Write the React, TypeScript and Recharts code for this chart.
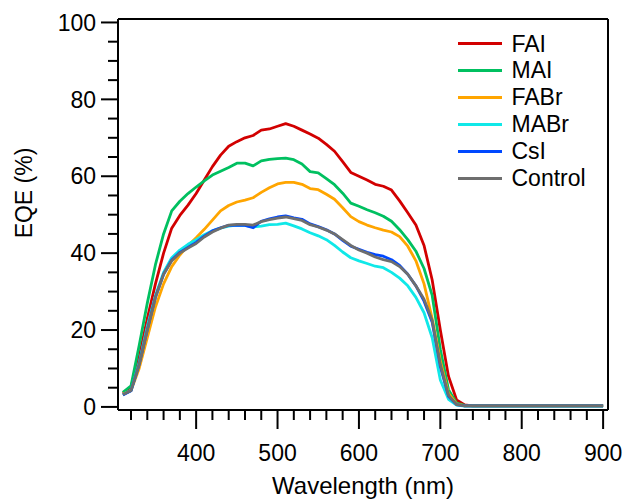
import React from 'react';
import { LineChart, Line, XAxis, YAxis, Legend, Label, ReferenceLine } from 'recharts';

const FONT = '"Liberation Sans", Arial, Helvetica, sans-serif';

const wavelengths = [
  310, 320, 330, 340, 350, 360, 370, 380, 390, 400,
  410, 420, 430, 440, 450, 460, 470, 480, 490, 500,
  510, 520, 530, 540, 550, 560, 570, 580, 590, 600,
  610, 620, 630, 640, 650, 660, 670, 680, 690, 700,
  710, 720, 730, 740, 750, 760, 770, 780, 790, 800,
  810, 820, 830, 840, 850, 860, 870, 880, 890, 900,
];

const fai = [
  3.6, 5.2, 13, 23, 32, 40, 46.5, 49.8, 52.5, 55.5,
  59, 62.5, 65.5, 67.8, 69, 70, 70.6, 72, 72.3, 73,
  73.7, 73, 72, 71, 69.9, 68.3, 66.5, 63.8, 61, 60,
  59, 57.9, 57.4, 56.4, 53.6, 50.5, 47.3, 42, 33, 20,
  8, 1.8, 0.5, 0.3, 0.3, 0.3, 0.3, 0.3, 0.3, 0.3,
  0.3, 0.3, 0.3, 0.3, 0.3, 0.3, 0.3, 0.3, 0.3, 0.3,
];

const mai = [
  3.8, 5.5, 16, 27, 37, 45, 51, 53.5, 55.5, 57.2,
  58.8, 60.3, 61.3, 62.3, 63.4, 63.4, 62.7, 64, 64.4, 64.6,
  64.7, 64.3, 63.2, 61.2, 60.9, 59.4, 57.8, 55.6, 53, 52.2,
  51.3, 50.5, 49.6, 48.3, 46.1, 43.5, 40.5, 36, 29, 15,
  4.5, 1, 0.4, 0.3, 0.3, 0.3, 0.3, 0.3, 0.3, 0.3,
  0.3, 0.3, 0.3, 0.3, 0.3, 0.3, 0.3, 0.3, 0.3, 0.3,
];

const fabr = [
  3.3, 4.3, 10, 18, 26, 32, 36.5, 39.5, 42, 44,
  46.2, 48.6, 51, 52.4, 53.3, 53.8, 54.4, 55.8, 57, 58,
  58.4, 58.4, 57.9, 56.8, 56.5, 55.3, 54, 51.8, 49.5, 48.2,
  47.3, 46.6, 46, 45.5, 44.3, 41.8, 38, 32, 23, 12,
  3.5, 0.8, 0.3, 0.25, 0.25, 0.25, 0.25, 0.25, 0.25, 0.25,
  0.25, 0.25, 0.25, 0.25, 0.25, 0.25, 0.25, 0.25, 0.25, 0.25,
];

const mabr = [
  3.2, 4.3, 11.5, 21, 29, 35, 38.8, 40.8, 42.3, 43.5,
  44.8, 45.8, 46.5, 47, 47.3, 47.2, 46.8, 47, 47.4, 47.5,
  47.8, 47.1, 46.3, 45.3, 44.5, 43.5, 42, 40.3, 38.8, 38,
  37.3, 36.6, 36.2, 35, 33.5, 31.5, 28.5, 24.5, 18, 7,
  2, 0.5, 0.2, 0.2, 0.2, 0.2, 0.2, 0.2, 0.2, 0.2,
  0.2, 0.2, 0.2, 0.2, 0.2, 0.2, 0.2, 0.2, 0.2, 0.2,
];

const csi = [
  3.1, 4.2, 11, 20, 28.5, 34.5, 38.2, 40.2, 41.5, 42.8,
  44.4, 45.8, 46.6, 47.2, 47.3, 47.2, 46.6, 48.3, 48.9, 49.4,
  49.7, 49.2, 48.8, 47.6, 46.9, 46.1, 45, 43.3, 41.8, 41,
  40.2, 39.6, 39.2, 38.3, 36.8, 34.5, 31.5, 27.5, 22, 10.5,
  2.8, 0.6, 0.3, 0.25, 0.25, 0.25, 0.25, 0.25, 0.25, 0.25,
  0.25, 0.25, 0.25, 0.25, 0.25, 0.25, 0.25, 0.25, 0.25, 0.25,
];

const control = [
  3.2, 4.3, 11, 20, 28.5, 34.5, 38, 40, 41.3, 42.5,
  44.2, 45.5, 46.5, 47.3, 47.5, 47.5, 47.3, 48.2, 48.7, 49.1,
  49.4, 49, 48.5, 47.4, 46.8, 46, 45, 43.5, 42, 40.8,
  40, 39, 38.3, 37.8, 36.5, 34.5, 31.5, 28, 22.5, 11,
  3, 0.6, 0.3, 0.25, 0.25, 0.25, 0.25, 0.25, 0.25, 0.25,
  0.25, 0.25, 0.25, 0.25, 0.25, 0.25, 0.25, 0.25, 0.25, 0.25,
];

const seriesNames = ['FAI', 'MAI', 'FABr', 'MABr', 'CsI', 'Control'];
const seriesValues = [fai, mai, fabr, mabr, csi, control];
const seriesColors = ['#d20000', '#00c060', '#ffa500', '#10e8e8', '#0048ff', '#6e6e6e'];

const xTicks = [
  320, 340, 360, 380, 400, 420, 440, 460, 480, 500, 520, 540, 560, 580, 600,
  620, 640, 660, 680, 700, 720, 740, 760, 780, 800, 820, 840, 860, 880, 900,
];
const xMajor = [400, 500, 600, 700, 800, 900];
const yTicks = [0, 5, 10, 15, 20, 25, 30, 35, 40, 45, 50, 55, 60, 65, 70, 75, 80, 85, 90, 95, 100];
const yMajor = [0, 20, 40, 60, 80, 100];

const xDomain = [304, 906];
const yDomain = [-0.8, 100.9];

const data = wavelengths.map((wl, i) => {
  const row: Record<string, number> = { wl };
  seriesNames.forEach((n, s) => {
    row[n] = seriesValues[s][i];
  });
  return row;
});

const XTick = (props: any) => {
  const { x, y, payload } = props;
  const major = xMajor.includes(payload.value);
  return (
    <g>
      <line x1={x} x2={x} y1={y} y2={y + (major ? 19 : 10)} stroke="#000" strokeWidth={2} />
      {major && (
        <text x={x} y={y + 50.5} textAnchor="middle" fontSize={23} fontFamily={FONT} fill="#000">
          {payload.value}
        </text>
      )}
    </g>
  );
};

const YTick = (props: any) => {
  const { x, y, payload } = props;
  const major = yMajor.includes(payload.value);
  return (
    <g>
      <line x1={x - (major ? 17 : 10)} x2={x} y1={y} y2={y} stroke="#000" strokeWidth={2} />
      {major && (
        <text x={x - 22} y={y + 8.2} textAnchor="end" fontSize={23} fontFamily={FONT} fill="#000">
          {payload.value}
        </text>
      )}
    </g>
  );
};

const renderYTitle = (p: any) => {
  const vb = p && p.viewBox ? p.viewBox : { x: 0 };
  const cx = (vb.x ?? 0) + 31.5;
  const cy = 193;
  return (
    <text
      x={cx}
      y={cy}
      transform={`rotate(-90 ${cx} ${cy})`}
      textAnchor="middle"
      fontSize={23}
      fontFamily={FONT}
      fill="#000"
    >
      EQE (%)
    </text>
  );
};

const renderXTitle = (p: any) => {
  const vb = p && p.viewBox ? p.viewBox : { x: 118, y: 410, width: 490 };
  const cx = (vb.x ?? 118) + (vb.width ?? 490) / 2;
  const cy = (vb.y ?? 410) + 84;
  return (
    <text x={cx} y={cy} textAnchor="middle" fontSize={24} fontFamily={FONT} fill="#000">
      Wavelength (nm)
    </text>
  );
};

const renderLegend = () => (
  <div style={{ fontFamily: FONT, fontSize: 23, color: '#000' }}>
    {seriesNames.map((n, i) => (
      <div key={n} style={{ display: 'flex', alignItems: 'center', height: 26.9 }}>
        <div style={{ width: 43.4, height: 3, background: seriesColors[i] }} />
        <span style={{ marginLeft: 9.8, lineHeight: '26.9px' }}>{n}</span>
      </div>
    ))}
  </div>
);

export default function App() {
  return (
    <div style={{ position: 'absolute', left: 0, top: 0, width: 628, height: 500, background: '#fff' }}>
      <LineChart
        width={628}
        height={500}
        data={data}
        margin={{ top: 19, right: 20, bottom: 0, left: 0 }}
      >
        <XAxis
          dataKey="wl"
          type="number"
          domain={xDomain}
          allowDataOverflow
          ticks={xTicks}
          interval={0}
          height={90}
          tickSize={0}
          tickMargin={0}
          tickLine={false}
          tick={<XTick />}
          axisLine={{ stroke: '#000', strokeWidth: 2 }}
        >
          <Label content={renderXTitle} />
        </XAxis>
        <YAxis
          type="number"
          domain={yDomain}
          allowDataOverflow
          ticks={yTicks}
          interval={0}
          width={118}
          tickSize={0}
          tickMargin={0}
          tickLine={false}
          tick={<YTick />}
          axisLine={{ stroke: '#000', strokeWidth: 2 }}
        >
          <Label content={renderYTitle} />
        </YAxis>
        <ReferenceLine y={yDomain[1]} stroke="#000" strokeWidth={2} ifOverflow="visible" />
        <ReferenceLine x={xDomain[1]} stroke="#000" strokeWidth={2} ifOverflow="visible" />
        <Legend
          layout="vertical"
          align="center"
          verticalAlign="middle"
          wrapperStyle={{ position: 'absolute', left: 458.3, top: 30.5, width: 'auto', height: 'auto' }}
          content={renderLegend}
        />
        {seriesNames.map((n, i) => (
          <Line
            key={n}
            dataKey={n}
            type="linear"
            stroke={seriesColors[i]}
            strokeWidth={2.8}
            dot={false}
            activeDot={false}
            strokeLinejoin="round"
            isAnimationActive={false}
          />
        ))}
      </LineChart>
    </div>
  );
}
